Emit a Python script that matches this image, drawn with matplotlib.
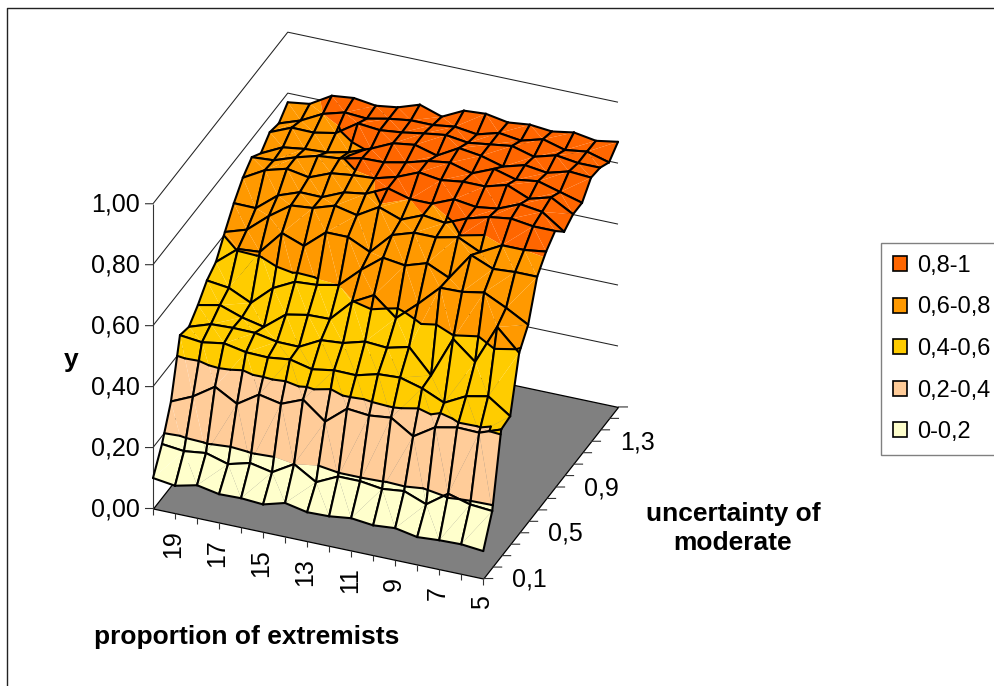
import numpy as np
import matplotlib
matplotlib.use("Agg")
import matplotlib.pyplot as plt
from matplotlib.patches import Patch
from matplotlib.lines import Line2D
from matplotlib.transforms import IdentityTransform
from mpl_toolkits.mplot3d import proj3d
from mpl_toolkits.mplot3d.art3d import Poly3DCollection, Line3DCollection

plt.rcParams['font.family'] = ['Liberation Sans', 'DejaVu Sans']

W, H = 995, 686

# proportion of extremists (columns) and uncertainty of moderate (rows)
proportion = [20, 19, 18, 17, 16, 15, 14, 13, 12, 11, 10, 9, 8, 7, 6, 5]
uncertainty = [0.1, 0.2, 0.3, 0.4, 0.5, 0.6, 0.7, 0.8, 0.9, 1.0, 1.1, 1.2, 1.3, 1.4, 1.5, 1.6]

u01 = [.100, .090, .107, .093, .095, .090, .110, .095, .097, .106, .098, .104, .090, .095, .097, .090]
u02 = [.174, .166, .175, .154, .173, .158, .200, .156, .190, .190, .180, .188, .160, .210, .190, .184]
u03 = [.276, .308, .355, .314, .360, .345, .374, .317, .375, .368, .376, .330, .375, .390, .388, .414]
u04 = [.456, .448, .460, .446, .444, .453, .436, .448, .447, .466, .470, .450, .418, .455, .470, .420]
u05 = [.446, .470, .473, .472, .458, .457, .494, .500, .520, .515, .533, .455, .590, .530, .660, .590]
u06 = [.480, .495, .470, .454, .510, .524, .526, .597, .635, .575, .637, .705, .707, .720, .685, .645]
u07 = [.523, .514, .480, .544, .580, .585, .600, .665, .720, .710, .733, .700, .790, .760, .765, .765]
u08 = [.546, .604, .610, .687, .660, .720, .720, .686, .757, .780, .780, .796, .762, .800, .800, .810]
u09 = [.607, .630, .690, .740, .747, .770, .754, .796, .770, .800, .790, .820, .840, .850, .840, .840]
u10 = [.664, .663, .720, .746, .745, .776, .787, .820, .800, .800, .830, .820, .830, .860, .850, .800]
u11 = [.710, .750, .770, .757, .786, .795, .800, .820, .850, .840, .850, .850, .870, .840, .860, .820]
u12 = [.740, .745, .770, .790, .797, .813, .815, .830, .850, .860, .840, .870, .850, .860, .840, .820]
u13 = [.715, .750, .760, .764, .780, .807, .840, .850, .830, .870, .860, .840, .860, .850, .870, .865]
u14 = [.747, .777, .776, .790, .837, .830, .838, .850, .860, .850, .860, .870, .850, .870, .860, .860]
u15 = [.738, .763, .800, .820, .815, .830, .840, .840, .850, .840, .860, .850, .870, .850, .860, .840]
u16 = [.770, .780, .822, .830, .820, .830, .854, .830, .865, .870, .857, .865, .858, .870, .858, .870]

z_ticks = [0.0, 0.2, 0.4, 0.6, 0.8, 1.0]
z_tick_labels = ['0,00', '0,20', '0,40', '0,60', '0,80', '1,00']
x_tick_labels = ['19', '17', '15', '13', '11', '9', '7', '5']
x_tick_values = [19, 17, 15, 13, 11, 9, 7, 5]
y_tick_labels = ['0,1', '0,5', '0,9', '1,3']
y_tick_values = [0.1, 0.5, 0.9, 1.3]

band_labels = ['0,8-1', '0,6-0,8', '0,4-0,6', '0,2-0,4', '0-0,2']
band_colors = ['#FF6600', '#FF9900', '#FFCC00', '#FFCC99', '#FFFFCC']
levels = [0.0, 0.2, 0.4, 0.6, 0.8, 1.0]

Z = np.array([u01, u02, u03, u04, u05, u06, u07, u08,
              u09, u10, u11, u12, u13, u14, u15, u16])
X = np.array(proportion, float)
Y = np.array(uncertainty, float)

fig = plt.figure(figsize=(W / 100, H / 100), dpi=100, facecolor='white')
ax = fig.add_axes([0.1, 0.05, 0.8, 0.9], projection='3d', computed_zorder=False)
ax.set_proj_type('ortho')
ax.view_init(elev=31.3, azim=-67.8)
ax.set_box_aspect((1, 1, 1))
ax.set_xlim(X[0], X[-1], view_margin=0)
ax.set_ylim(Y[0], Y[-1], view_margin=0)
ax.set_zlim(0, 1, view_margin=0)
ax.set_axis_off()
ax.patch.set_alpha(0)


def to_px(x, y, z):
    xp, yp, _ = proj3d.proj_transform(x, y, z, ax.get_proj())
    return ax.transData.transform((xp, yp))


# fit the projected cube onto the plot area of the figure
ax.apply_aspect()
A, B = to_px(X[0], Y[0], 0), to_px(X[-1], Y[-1], 0)
s = (618 - 153) / (B[0] - A[0])
p = ax.get_position()
ax.set_position([p.x0, p.y0, p.width * s, p.height * s])
ax.apply_aspect()
A = to_px(X[0], Y[0], 0)
p = ax.get_position()
ax.set_position([p.x0 + (153 - A[0]) / W, p.y0 + (H - 508.5 - A[1]) / H, p.width, p.height])
ax.apply_aspect()

dx_step = abs(X[1] - X[0])
PX_PER_X = 22.0      # screen pixels per column
DROP_PER_X = 4.67    # screen pixels downward per column
PX_PER_Z = 304.0     # screen pixels per unit of y


def shift(x, y, z, right=0.0, up=0.0):
    """Data position that appears right/up pixels away from (x, y, z)."""
    di = right / PX_PER_X
    return x - di * dx_step, y, z + (up + di * DROP_PER_X) / PX_PER_Z


def label(x, y, z, text, dx=0.0, dy=0.0, **kw):
    """Tick label placed dx/dy pixels away from a point of the axes."""
    px = to_px(x, y, z)
    ax.text2D(px[0] + dx, px[1] + dy, text, transform=IdentityTransform(), fontsize=18,
              color='black', clip_on=False, **kw)


LINE = dict(clip_on=False, solid_capstyle='butt')

# walls: y gridlines on the two back planes
for k, zv in enumerate(z_ticks):
    if zv > 0:
        ax.plot([X[0], X[0], X[-1]], [Y[0], Y[-1], Y[-1]], [zv, zv, zv],
                color='#222222', lw=0.75, zorder=1, **LINE)

# floor
floor = Poly3DCollection([[(X[0], Y[0], 0), (X[-1], Y[0], 0), (X[-1], Y[-1], 0), (X[0], Y[-1], 0)]],
                         facecolors='#808080', edgecolors='black', linewidths=0.9, zorder=2)
floor.set_clip_on(False)
ax.add_collection3d(floor)

# axis line and tick marks
ax.plot([X[0], X[0]], [Y[0], Y[0]], [0, 1], color='#333333', lw=0.8, zorder=3, **LINE)
for zv, lab in zip(z_ticks, z_tick_labels):
    a = shift(X[0], Y[0], zv, right=-8)
    ax.plot([X[0], a[0]], [Y[0], Y[0]], [zv, a[2]], color='#333333', lw=0.8, zorder=3, **LINE)
    label(X[0], Y[0], zv, lab, dx=-13.5, dy=-1, ha='right', va='center')

for xv in X:
    ax.plot([xv, xv], [Y[0], Y[0]], [0, -6 / PX_PER_Z], color='#333333', lw=0.8, zorder=3, **LINE)
for xv, lab in zip(x_tick_values, x_tick_labels):
    label(xv, Y[0], 0, lab, dx=-1.5, dy=-17, rotation=90, ha='center', va='top')

for yv in Y:
    a = shift(X[-1], yv, 0, right=10)
    ax.plot([X[-1], a[0]], [yv, yv], [0, a[2]], color='#333333', lw=0.8, zorder=3, **LINE)
for yv, lab in zip(y_tick_values, y_tick_labels):
    label(X[-1], yv, 0, lab, dx=29, dy=-1, ha='left', va='center')


def clip_band(tri, lo, hi):
    """Part of a triangle with lo <= z <= hi."""
    def half(poly, keep, inter_level):
        out = []
        n = len(poly)
        for q in range(n):
            a, b = poly[q], poly[(q + 1) % n]
            ka, kb = keep(a[2]), keep(b[2])
            if ka:
                out.append(a)
            if ka != kb:
                f = (inter_level - a[2]) / (b[2] - a[2])
                out.append(tuple(a[m] + f * (b[m] - a[m]) for m in range(3)))
        return out
    poly = half(list(tri), lambda v: v >= lo, lo)
    if poly:
        poly = half(poly, lambda v: v <= hi, hi)
    return poly


def level_segment(tri, lev):
    pts = []
    for q in range(3):
        a, b = tri[q], tri[(q + 1) % 3]
        if (a[2] - lev) * (b[2] - lev) < 0:
            f = (lev - a[2]) / (b[2] - a[2])
            pts.append(tuple(a[m] + f * (b[m] - a[m]) for m in range(3)))
    return pts if len(pts) == 2 else None


# surface, drawn cell by cell from the far corner to the near one
order = 10
for j in range(len(Y) - 2, -1, -1):
    for i in range(len(X) - 1):
        p00 = (X[i], Y[j], Z[j, i])
        p10 = (X[i + 1], Y[j], Z[j, i + 1])
        p01 = (X[i], Y[j + 1], Z[j + 1, i])
        p11 = (X[i + 1], Y[j + 1], Z[j + 1, i + 1])
        if abs(p00[2] - p11[2]) <= abs(p10[2] - p01[2]):
            tris = [(p00, p10, p11), (p00, p11, p01)]
        else:
            tris = [(p00, p10, p01), (p10, p11, p01)]
        polys, faces = [], []
        segs = [[p00, p10], [p10, p11], [p11, p01], [p01, p00]]
        for tri in tris:
            for b in range(5):
                piece = clip_band(tri, levels[b], levels[b + 1])
                if len(piece) >= 3:
                    polys.append(piece)
                    faces.append(band_colors[4 - b])
            for lev in levels[1:-1]:
                sg = level_segment(tri, lev)
                if sg:
                    segs.append(sg)
        pc = Poly3DCollection(polys, facecolors=faces, edgecolors='none', linewidths=0, zorder=order)
        pc.set_clip_on(False)
        ax.add_collection3d(pc)
        lc = Line3DCollection(segs, colors='black', linewidths=1.5, zorder=order + 0.5,
                              capstyle='round')
        lc.set_clip_on(False)
        ax.add_collection3d(lc)
        order += 1

# outer frame of the chart area
fig.add_artist(Line2D([7 / W, 7 / W, 1], [0, 1 - 8 / H, 1 - 8 / H], color='#222222', lw=1.0))

# axis titles
fig.text(71 / W, 1 - 360 / H, 'y', fontsize=19, fontweight='bold', ha='center', va='center')
fig.text(733 / W, 1 - 528.5 / H, 'uncertainty of\nmoderate', fontsize=19, fontweight='bold',
         ha='center', va='center', linespacing=1.3)
fig.text(247 / W, 1 - 637 / H, 'proportion of extremists', fontsize=19, fontweight='bold',
         ha='center', va='center')

# legend
handles = [Patch(facecolor=c, edgecolor='black', linewidth=1.2, label=l)
           for c, l in zip(band_colors, band_labels)]
leg = fig.legend(handles=handles, loc='upper left', bbox_to_anchor=(881 / W, 1 - 243 / H),
                 borderaxespad=0, fontsize=17, frameon=True, fancybox=False, framealpha=1,
                 edgecolor='#808080', handlelength=0.6, handleheight=0.6, handletextpad=0.42,
                 borderpad=0.5, labelspacing=0.83)
leg.get_frame().set_linewidth(1.0)

fig.savefig('out.png', dpi=100, facecolor='white')
